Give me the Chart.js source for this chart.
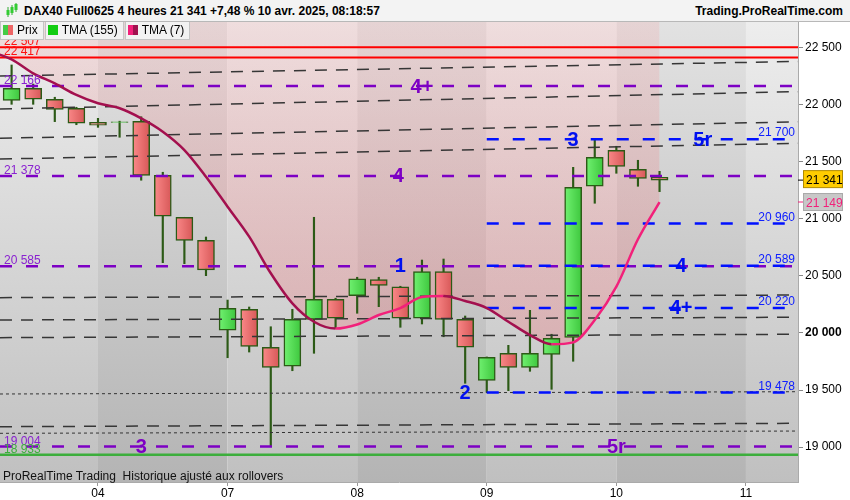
<!DOCTYPE html>
<html>
<head>
<meta charset="utf-8">
<script src="https://cdn.jsdelivr.net/npm/chart.js@4.4.1/dist/chart.umd.min.js"></script>
<style>
  body { margin: 0; background: #fff; font-family: Arial, "Liberation Sans", sans-serif; }
  #wrap { position: relative; width: 850px; height: 500px; overflow: hidden; }
  #hdr { position: absolute; left: 0; top: 0; width: 850px; height: 21px; background: #f3f3f3; border-bottom: 1px solid #b8b8b8; font-size: 12px; font-weight: bold; color: #000; }
  #hdr .t { position: absolute; left: 24px; top: 4px; }
  #hdr .r { position: absolute; right: 7px; top: 4px; }
  #hdr .ico { position: absolute; left: 5px; top: 3px; width: 14px; height: 15px; }
  #leg { position: absolute; left: 0; top: 22px; height: 18px; font-size: 12px; color: #000; }
  #leg div { float: left; height: 17px; line-height: 17px; background: #f2f2f2; border: 1px solid #c4c4c4; border-top: none; padding: 0 5px 0 2px; margin-right: 1px; }
  #leg i { display: inline-block; width: 10px; height: 10px; vertical-align: -1px; margin-right: 4px; }
  #note { position: absolute; left: 3px; top: 469px; font-size: 12px; color: #111; }
</style>
</head>
<body>
<div id="wrap">
  <canvas id="c" width="850" height="500"></canvas>
  <div id="hdr">
    <svg class="ico" viewBox="0 0 14 15"><line x1="3" y1="4" x2="3" y2="14" stroke="#3a3" stroke-width="1"/><rect x="1.5" y="7" width="3" height="5" fill="#3c3"/><line x1="7" y1="2" x2="7" y2="12" stroke="#3a3"/><rect x="5.5" y="4" width="3" height="6" fill="#3c3"/><line x1="11" y1="0" x2="11" y2="9" stroke="#3a3"/><rect x="9.5" y="1" width="3" height="6" fill="#3c3"/></svg>
    <span class="t">DAX40 Full0625 4 heures 21 341 +7,48 % 10 avr. 2025, 08:18:57</span>
    <span class="r">Trading.ProRealTime.com</span>
  </div>
  <div id="leg">
    <div><i style="background:linear-gradient(90deg,#4c4 50%,#e66 50%)"></i>Prix</div>
    <div><i style="background:#1c1"></i>TMA (155)</div>
    <div><i style="background:linear-gradient(90deg,#f2207a 50%,#a0104e 50%)"></i>TMA (7)</div>
  </div>
  <div id="note">ProRealTime Trading&nbsp; Historique ajusté aux rollovers</div>
</div>
<script>
// 4h candles, 03/04 -> 10/04
const opens  = [22041,22146,22050,21971,21848,21848,21857,21383,21015,20813,20024,20208,19875,19708,20120,20296,20327,20468,20406,20129,20538,20120,19585,19822,19699,19813,19962,21287,21603,21436,21366];
const highs  = [22351,22184,22068,21980,21883,21858,21897,21410,21015,20842,20289,20228,20055,20208,21015,20305,20489,20489,20410,20640,20649,20149,19790,19892,20199,19989,21453,21690,21638,21515,21418];
const lows   = [22006,22006,21854,21827,21804,21717,21340,20617,20608,20503,19783,19833,19003,19669,19822,20041,20173,20231,20050,20079,19967,19559,19480,19494,19664,19506,19752,21138,21401,21287,21240];
const closes = [22146,22050,21962,21840,21822,21852,21383,21024,20813,20553,20217,19883,19699,20120,20296,20129,20476,20418,20129,20538,20120,19875,19787,19699,19822,19953,21278,21541,21462,21357,21341];

// TMA(7), first value is the bar before the visible window
const tmaFirstIndex = -1;
const tma7 = [22470,22401,22278,22190,22088,22015,21971,21883,21766,21605,21371,21108,20845,20524,20260,20099,20039,20075,20158,20219,20316,20325,20281,20219,20099,19982,19901,19918,20114,20406,20822,21149];

// day ticks
const dayLabels = ['04','07','08','09','10','11'];
const dayIndex  = [4, 10, 16, 22, 28, 34];
const yTicks = [19000,19500,20000,20500,21000,21500,22000,22500];

// horizontal levels
const redLevels    = [22507, 22417];
const purpleLevels = [22166, 21378, 20585, 19004];
const blueLevels   = [21700, 20960, 20589, 20220, 19478];
const blueFrom = 22;
const greenLevel = 18933;

// sloped dashed lines (value at left edge, value at right edge)
const dashedLeft  = [22254, 21965, 21708, 21526, 20310, 20114, 19959, 19178];
const dashedRight = [22382, 22117, 21853, 21664, 20333, 20138, 19989, 19208];
const dottedLeft  = [19465, 19120];
const dottedRight = [19485, 19140];

// wave labels
const waveText  = ['4+', '4', '3', '5r', '1', '4', '4+', '2', '3', '5r'];
const waveIndex = [19, 17.9, 26, 32, 18, 31, 31, 21, 6, 28];
const waveLevel = [22166, 21378, 21700, 21700, 20589, 20589, 20220, 19478, 19004, 19004];
const waveColor = ['#7d00c4','#7d00c4','#0010f0','#0010f0','#0010f0','#0010f0','#0010f0','#0010f0','#7d00c4','#7d00c4'];

const lastPrice = 21341;

const X_MIN = -0.537, X_MAX = 36.41;
const Y_MIN = 18693, Y_MAX = 22728;

const fmt = v => String(Math.round(v)).replace(/\B(?=(\d{3})+(?!\d))/g, ' ');

const idx = opens.map((_, i) => i);
const up = idx.map(i => closes[i] >= opens[i]);
const tmaPts = tma7.map((v, k) => ({ x: tmaFirstIndex + k, y: v }));

function hline(v, color, width, dash, order, from) {
  return {
    type: 'line', data: [{ x: from === undefined ? X_MIN : from, y: v }, { x: X_MAX, y: v }],
    borderColor: color, borderWidth: width, borderDash: dash, pointRadius: 0, order: order, fill: false
  };
}
function sline(a, b, color, width, dash, order) {
  return {
    type: 'line', data: [{ x: X_MIN, y: a }, { x: X_MAX, y: b }],
    borderColor: color, borderWidth: width, borderDash: dash, pointRadius: 0, order: order, fill: false
  };
}

// body colour: horizontal gradient across each candle
function bodyColor(c) {
  const i = c.dataIndex;
  const isUp = up[i];
  const solid = isUp ? '#5de05d' : '#ef7474';
  const xs = c.chart.scales && c.chart.scales.x;
  if (!xs || c.type !== 'data') return solid;
  const px = xs.getPixelForValue(i);
  if (!isFinite(px)) return solid;
  const g = c.chart.ctx.createLinearGradient(px - 9, 0, px + 9, 0);
  if (isUp) { g.addColorStop(0, '#72f272'); g.addColorStop(1, '#3cc63c'); }
  else { g.addColorStop(0, '#fb8a8a'); g.addColorStop(1, '#d65656'); }
  return g;
}

const datasets = [];
// pink cloud above the TMA
datasets.push({
  type: 'line', data: tmaPts, fill: 'end', borderWidth: 0, pointRadius: 0, order: 100,
  cubicInterpolationMode: 'monotone',
  backgroundColor: ctx => {
    const ca = ctx.chart.chartArea;
    if (!ca || !isFinite(ca.top) || !isFinite(ca.bottom)) return 'rgba(245,105,110,0.2)';
    const g = ctx.chart.ctx.createLinearGradient(0, ca.top, 0, ca.bottom);
    g.addColorStop(0, 'rgba(255,105,110,0.12)');
    g.addColorStop(1, 'rgba(240,100,110,0.34)');
    return g;
  }
});
// wicks
datasets.push({
  type: 'bar', data: idx.map(i => ({ x: i, y: [lows[i], highs[i]] })),
  backgroundColor: '#2c5a16', barThickness: 1.5, grouped: false, order: 90
});
// bodies
datasets.push({
  type: 'bar', data: idx.map(i => ({ x: i, y: [opens[i], closes[i]] })),
  backgroundColor: bodyColor,
  borderColor: '#2c5a16', borderWidth: 1.5, borderSkipped: false,
  barThickness: 17, grouped: false, order: 80
});
dashedLeft.forEach((v, k) => datasets.push(sline(v, dashedRight[k], '#363636', 1.5, [12, 9], 70)));
dottedLeft.forEach((v, k) => datasets.push(sline(v, dottedRight[k], '#333', 1, [3, 3], 70)));
purpleLevels.forEach(v => datasets.push(hline(v, '#7d00c4', 2.5, [12, 14], 60)));
blueLevels.forEach(v => datasets.push(hline(v, '#0010ff', 2.5, [12, 14], 50, blueFrom)));
redLevels.forEach(v => datasets.push(hline(v, '#ff0000', 2, [], 40)));
datasets.push(hline(greenLevel, '#3cae3c', 2.5, [], 40));
// TMA(7) line
datasets.push({
  type: 'line', data: tmaPts, fill: false, borderWidth: 2.5, pointRadius: 0, order: 10,
  cubicInterpolationMode: 'monotone',
  segment: { borderColor: c => c.p1.parsed.y >= c.p0.parsed.y ? '#f2207a' : '#a3104e' }
});

const bandsPlugin = {
  id: 'bands',
  beforeDatasetsDraw(chart) {
    const { ctx, chartArea: ca, scales: { x } } = chart;
    const edges = [ca.left].concat(dayIndex.map(d => x.getPixelForValue(d))).concat([ca.right]);
    ctx.save();
    for (let k = 0; k < edges.length - 1; k++) {
      const g = ctx.createLinearGradient(0, ca.top, 0, ca.bottom);
      if (k % 2 === 0) { g.addColorStop(0, '#ededed'); g.addColorStop(1, '#c0c0c0'); }
      else { g.addColorStop(0, '#e2e2e2'); g.addColorStop(1, '#b4b4b4'); }
      ctx.fillStyle = g;
      const l = Math.max(edges[k], ca.left), r = Math.min(edges[k + 1], ca.right);
      ctx.fillRect(l, ca.top, r - l, ca.bottom - ca.top);
    }
    ctx.restore();
  }
};

const labelsPlugin = {
  id: 'levelLabels',
  afterDatasetsDraw(chart) {
    const { ctx, chartArea: ca, scales: { x, y } } = chart;
    ctx.save();
    ctx.textBaseline = 'alphabetic';
    ctx.font = '12px Arial, "Liberation Sans"';
    ctx.textAlign = 'left';
    redLevels.forEach(v => { ctx.fillStyle = '#ff1010'; ctx.fillText(fmt(v), 4, y.getPixelForValue(v) - 2); });
    purpleLevels.forEach(v => { ctx.fillStyle = '#8a22d0'; ctx.fillText(fmt(v), 4, y.getPixelForValue(v) - 2); });
    ctx.fillStyle = '#3cae3c'; ctx.fillText(fmt(greenLevel), 4, y.getPixelForValue(greenLevel) - 2);
    ctx.textAlign = 'right';
    ctx.fillStyle = '#1020ff';
    blueLevels.forEach(v => ctx.fillText(fmt(v), ca.right - 3, y.getPixelForValue(v) - 3));
    // wave counts
    ctx.font = 'bold 20px Arial, "Liberation Sans"';
    ctx.textAlign = 'center';
    ctx.textBaseline = 'middle';
    waveText.forEach((t, k) => {
      ctx.fillStyle = waveColor[k];
      ctx.fillText(t, x.getPixelForValue(waveIndex[k]), y.getPixelForValue(waveLevel[k]) + 1);
    });
    // price markers on the right axis
    ctx.font = '12px Arial, "Liberation Sans"';
    ctx.textAlign = 'left';
    ctx.textBaseline = 'alphabetic';
    const py = y.getPixelForValue(lastPrice);
    ctx.fillStyle = '#ffcc00'; ctx.strokeStyle = '#b08a00'; ctx.lineWidth = 1;
    ctx.fillRect(803.5, py - 9.5, 39, 17); ctx.strokeRect(803.5, py - 9.5, 39, 17);
    ctx.fillStyle = '#000'; ctx.fillText(fmt(lastPrice), 806, py + 4);
    ctx.strokeStyle = '#000'; ctx.beginPath(); ctx.moveTo(798, py); ctx.lineTo(803, py); ctx.stroke();
    const lastTma = tma7[tma7.length - 1];
    const ty = y.getPixelForValue(lastTma);
    ctx.fillStyle = '#c8c8c8'; ctx.strokeStyle = '#aaa';
    ctx.fillRect(803.5, ty - 8.5, 39, 17); ctx.strokeRect(803.5, ty - 8.5, 39, 17);
    ctx.fillStyle = '#f2207a'; ctx.fillText(fmt(lastTma), 806, ty + 5);
    ctx.strokeStyle = '#f2207a'; ctx.beginPath(); ctx.moveTo(798, ty); ctx.lineTo(803, ty); ctx.stroke();
    ctx.restore();
  }
};

new Chart(document.getElementById('c'), {
  type: 'bar',
  data: { datasets: datasets },
  options: {
    responsive: false,
    animation: false,
    layout: { padding: { top: 22, left: 0, right: 0, bottom: 0 } },
    plugins: { legend: { display: false }, tooltip: { enabled: false } },
    scales: {
      x: {
        type: 'linear', min: X_MIN, max: X_MAX, offset: false,
        afterBuildTicks: s => { s.ticks = dayIndex.map(v => ({ value: v })); },
        afterFit: s => { s.height = 18; },
        ticks: {
          callback: v => dayLabels[dayIndex.indexOf(v)], color: '#000', padding: 0,
          maxRotation: 0, autoSkip: false, font: { size: 12, family: 'Arial' }
        },
        grid: { offset: false, drawOnChartArea: false, tickLength: 4, color: '#999' },
        border: { color: '#aaa' }
      },
      y: {
        type: 'linear', position: 'right', min: Y_MIN, max: Y_MAX,
        afterBuildTicks: s => { s.ticks = yTicks.map(v => ({ value: v })); },
        afterFit: s => { s.width = 52; },
        ticks: {
          callback: v => fmt(v), color: '#000', padding: 2,
          font: c => ({ size: 12, family: 'Arial', weight: c.tick && c.tick.value === 20000 ? 'bold' : 'normal' })
        },
        grid: { drawOnChartArea: false, tickLength: 5, color: '#888' },
        border: { color: '#aaa' }
      }
    }
  },
  plugins: [bandsPlugin, labelsPlugin]
});
</script>
</body>
</html>
